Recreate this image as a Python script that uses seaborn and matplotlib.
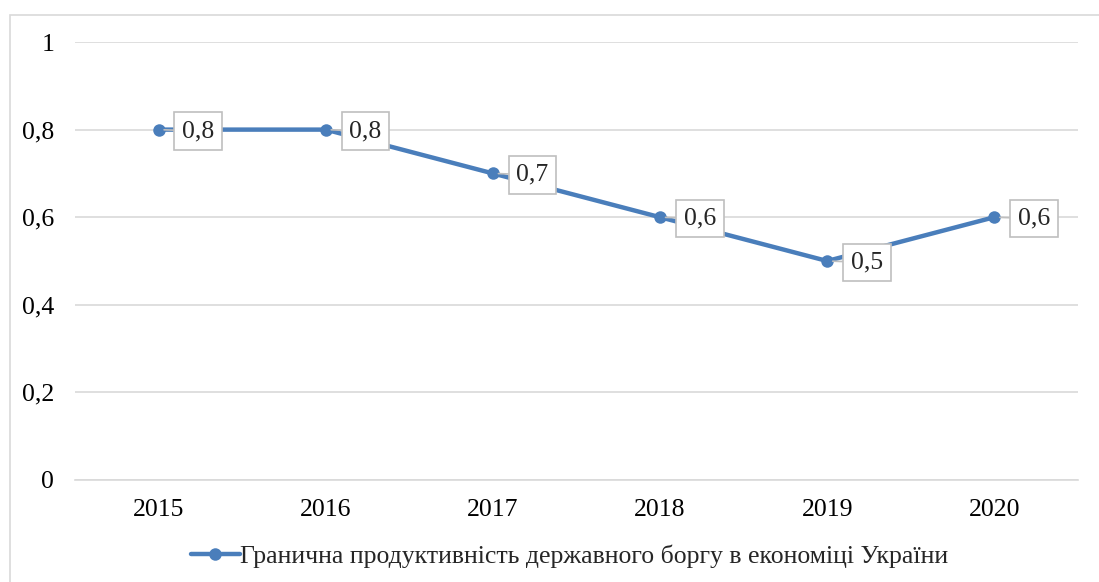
import pandas as pd
import matplotlib.pyplot as plt
import seaborn as sns
from matplotlib.patches import Rectangle

sns.set_style('white')
plt.rcParams['font.family'] = ['Liberation Serif', 'DejaVu Serif']

# Дані
years = ['2015', '2016', '2017', '2018', '2019', '2020']
values = [0.8, 0.8, 0.7, 0.6, 0.5, 0.6]
labels = ['0,8', '0,8', '0,7', '0,6', '0,5', '0,6']
series_name = 'Гранична продуктивність державного боргу в економіці України'

df = pd.DataFrame({'year': years, 'value': values})
blue = '#4A7EBB'
grid = '#D9D9D9'
fs = 18.5

fig = plt.figure(figsize=(10.99, 5.82), dpi=100)
ax = fig.add_axes([0.0682, 0.1753, 0.9126, 0.7525])

sns.lineplot(data=df, x='year', y='value', ax=ax, color=blue, linewidth=3.2,
             marker='o', markersize=9, markeredgewidth=0, sort=False,
             label=series_name)

ax.set_xlim(-0.5, 5.5)
ax.set_ylim(0, 1)
ax.set_yticks([0, 0.2, 0.4, 0.6, 0.8, 1.0])
ax.set_yticklabels(['0', '0,2', '0,4', '0,6', '0,8', '1'])
ax.yaxis.grid(True, color=grid, linewidth=1.2)
ax.set_axisbelow(True)
for s in ['left', 'right', 'top']:
    ax.spines[s].set_visible(False)
ax.spines['bottom'].set_color(grid)
ax.spines['bottom'].set_linewidth(1.2)
ax.tick_params(axis='both', length=0, labelsize=fs, colors='black')
ax.tick_params(axis='y', pad=15)
ax.tick_params(axis='x', pad=14)
ax.set_xlabel('')
ax.set_ylabel('')

# Підписи даних у виносках
for i, (v, t) in enumerate(zip(values, labels)):
    ax.annotate(t, xy=(i, v), xytext=(17, -1), textcoords='offset points',
                fontsize=fs, ha='left', va='center',
                bbox=dict(boxstyle='square,pad=0.3', fc='white', ec='#BFBFBF', lw=1.2),
                arrowprops=dict(arrowstyle='-', color='#BFBFBF', lw=1.2,
                                shrinkA=0, shrinkB=4))

leg = ax.legend(loc='upper center', bbox_to_anchor=(0.493, -0.095), frameon=False,
                fontsize=fs, handlelength=1.9, handletextpad=0.0)

# Рамка діаграми
fig.patches.append(Rectangle((10 / 1099, -0.05), 1.2, 1 - 15 / 582 + 0.05,
                             transform=fig.transFigure, fill=False,
                             ec='#D9D9D9', lw=1.2))

fig.savefig('out.png', dpi=100)
